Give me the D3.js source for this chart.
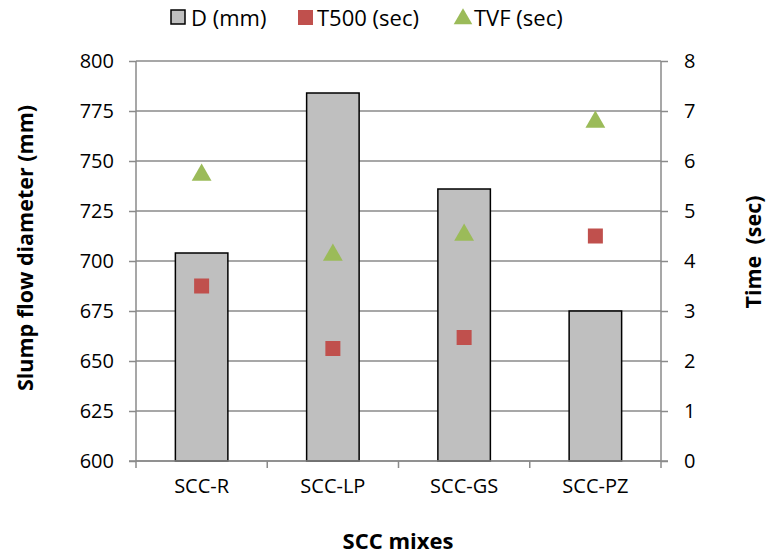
<!DOCTYPE html>
<html>
<head>
<meta charset="utf-8">
<script src="https://cdn.jsdelivr.net/npm/d3@7"></script>
<style>
  body { margin: 0; background: #fff; }
  svg { display: block; font-family: "Open Sans", sans-serif; }
</style>
</head>
<body>
<svg id="chart" width="768" height="555"></svg>
<script>
const categories = ["SCC-R", "SCC-LP", "SCC-GS", "SCC-PZ"];
const diameter = [704, 784, 736, 675];      // D (mm), left axis
const t500 = [3.5, 2.25, 2.47, 4.5];        // T500 (sec), right axis
const tvf = [5.72, 4.12, 4.52, 6.78];       // TVF (sec), right axis
const leftTicks = [600, 625, 650, 675, 700, 725, 750, 775, 800];
const rightTicks = [0, 1, 2, 3, 4, 5, 6, 7, 8];
const seriesNames = ["D (mm)", "T500 (sec)", "TVF (sec)"];

const svg = d3.select("#chart");
const m = { left: 136, right: 661, top: 61, bottom: 461 };
const gridColor = "#8a8a8a";
const barFill = "#bfbfbf", redColor = "#c0504d", greenColor = "#9bbb59";

const x = d3.scaleBand().domain(categories).range([m.left, m.right]).paddingInner(0.6).paddingOuter(0.3);
const yL = d3.scaleLinear().domain([600, 800]).range([m.bottom, m.top]);
const yR = d3.scaleLinear().domain([0, 8]).range([m.bottom, m.top]);

// gridlines
svg.append("g").selectAll("line").data(leftTicks).join("line")
  .attr("x1", m.left).attr("x2", m.right)
  .attr("y1", d => yL(d)).attr("y2", d => yL(d))
  .attr("stroke", gridColor).attr("stroke-width", 1.5);

// bars
svg.append("g").selectAll("rect").data(categories).join("rect")
  .attr("x", d => x(d)).attr("width", x.bandwidth())
  .attr("y", (d, i) => yL(diameter[i]))
  .attr("height", (d, i) => yL(600) - yL(diameter[i]))
  .attr("fill", barFill).attr("stroke", "#000").attr("stroke-width", 1.5);

// left axis
const axL = svg.append("g").attr("transform", `translate(${m.left},0)`)
  .call(d3.axisLeft(yL).tickValues(leftTicks).tickSize(7).tickPadding(15));
// right axis
const axR = svg.append("g").attr("transform", `translate(${m.right},0)`)
  .call(d3.axisRight(yR).tickValues(rightTicks).tickSize(7).tickPadding(16));
// bottom axis (ticks at category boundaries)
const boundaries = d3.range(categories.length + 1).map(i => m.left + i * x.step());
const axB = svg.append("g").attr("transform", `translate(0,${m.bottom})`);
axB.append("line").attr("x1", m.left - 7).attr("x2", m.right + 7)
  .attr("stroke", gridColor).attr("stroke-width", 1.5);
axB.selectAll("line.t").data(boundaries).join("line").attr("class", "t")
  .attr("x1", d => d).attr("x2", d => d).attr("y1", 0).attr("y2", 7)
  .attr("stroke", gridColor).attr("stroke-width", 1.5);
axB.selectAll("text").data(categories).join("text")
  .attr("x", d => x(d) + x.bandwidth() / 2).attr("y", 32)
  .attr("text-anchor", "middle").attr("font-size", 20).attr("fill", "#000")
  .text(d => d);

[axL, axR].forEach(a => {
  a.select(".domain").attr("stroke", gridColor).attr("stroke-width", 1.5);
  a.selectAll(".tick line").attr("stroke", gridColor).attr("stroke-width", 1.5);
  a.selectAll(".tick text").attr("font-size", 20).attr("fill", "#000").attr("font-family", "Open Sans");
});
axL.select(".domain").attr("d", `M0,${m.top}V${m.bottom}`);
axR.select(".domain").attr("d", `M0,${m.top}V${m.bottom}`);

// markers
const cx = d => x(d) + x.bandwidth() / 2;
svg.append("g").selectAll("rect").data(categories).join("rect")
  .attr("x", d => cx(d) - 7.5).attr("y", (d, i) => yR(t500[i]) - 7.5)
  .attr("width", 15).attr("height", 15).attr("fill", redColor);
const tri = d3.symbol().type(d3.symbolTriangle).size(170);
svg.append("g").selectAll("path").data(categories).join("path")
  .attr("d", tri)
  .attr("transform", (d, i) => `translate(${cx(d)},${yR(tvf[i])})`)
  .attr("fill", greenColor);

// axis titles
svg.append("text").attr("transform", "translate(33,248) rotate(-90)")
  .attr("text-anchor", "middle").attr("font-size", 21.5).attr("font-weight", "bold")
  .text("Slump flow diameter (mm)");
svg.append("text").attr("transform", "translate(761,252) rotate(-90)")
  .attr("text-anchor", "middle").attr("font-size", 21.5).attr("font-weight", "bold")
  .attr("xml:space", "preserve").style("white-space", "pre")
  .text("Time  (sec)");
svg.append("text").attr("x", 398).attr("y", 549)
  .attr("text-anchor", "middle").attr("font-size", 22).attr("font-weight", "bold")
  .text("SCC mixes");

// legend
const lg = svg.append("g");
lg.append("rect").attr("x", 171).attr("y", 10).attr("width", 14).attr("height", 14)
  .attr("fill", barFill).attr("stroke", "#000").attr("stroke-width", 1.5);
lg.append("text").attr("x", 191).attr("y", 26).attr("font-size", 22).text(seriesNames[0]);
lg.append("rect").attr("x", 298).attr("y", 10).attr("width", 15).attr("height", 15).attr("fill", redColor);
lg.append("text").attr("x", 317).attr("y", 26).attr("font-size", 22).text(seriesNames[1]);
lg.append("path").attr("d", d3.symbol().type(d3.symbolTriangle).size(150))
  .attr("transform", "translate(463,19)").attr("fill", greenColor);
lg.append("text").attr("x", 474).attr("y", 26).attr("font-size", 22).text(seriesNames[2]);
</script>
</body>
</html>
